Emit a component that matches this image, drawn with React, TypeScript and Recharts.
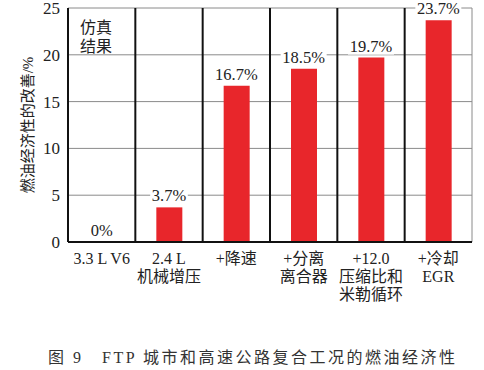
import React from "react";
import {
  ComposedChart,
  Bar,
  Line,
  XAxis,
  YAxis,
  CartesianGrid,
  LabelList,
} from "recharts";

const categories = [
  "3.3 L V6",
  "2.4 L\n机械增压",
  "+降速",
  "+分离\n离合器",
  "+12.0\n压缩比和\n米勒循环",
  "+冷却\nEGR",
];
const improvement = [0, 3.7, 16.7, 18.5, 19.7, 23.7];
const valueLabels = ["0%", "3.7%", "16.7%", "18.5%", "19.7%", "23.7%"];
const yTicks = [0, 5, 10, 15, 20, 25];
const yAxisTitle = "燃油经济性的改善/%";
const noteLines = ["仿真", "结果"];
const caption = "图 9　FTP 城市和高速公路复合工况的燃油经济性";

const data = categories.map((c, i) => ({
  name: c,
  value: improvement[i],
  label: valueLabels[i],
}));

const SERIF = "Liberation Serif, Times New Roman, Noto Sans CJK SC, serif";
const RED = "#e8262b";

const XTick = (props: any) => {
  const { x, y, payload } = props;
  const lines = String(payload.value).split("\n");
  return (
    <g>
      {lines.map((ln, i) => (
        <text
          key={i}
          x={x}
          y={y + 14 + i * 18}
          textAnchor="middle"
          fontFamily={SERIF}
          fontSize={16}
          fill="#222"
        >
          {ln}
        </text>
      ))}
    </g>
  );
};

const ValueLabel = (props: any) => {
  const { x, y, value } = props;
  const text = String(value);
  const cx = x;
  const w = text.length * 8.4 + 4;
  const baseY = y - 6;
  return (
    <g>
      <rect x={cx - w / 2} y={baseY - 13} width={w} height={16} fill="#fff" />
      <text
        x={cx}
        y={baseY}
        textAnchor="middle"
        fontFamily={SERIF}
        fontSize={16.5}
        fill="#222"
      >
        {text}
      </text>
    </g>
  );
};

const YTitle = (props: any) => {
  const { viewBox } = props;
  const cx = 28;
  const cy = viewBox.y + viewBox.height / 2;
  return (
    <text
      x={cx}
      y={cy}
      transform={`rotate(-90, ${cx}, ${cy})`}
      textAnchor="middle"
      dominantBaseline="central"
      fontFamily={SERIF}
      fontSize={15}
      fill="#222"
    >
      {yAxisTitle}
    </text>
  );
};

const separators = (props: any) => {
  const { offset } = props;
  const n = categories.length;
  return categories
    .slice(1)
    .map((_, i) => offset.left + ((i + 1) * offset.width) / n);
};

const rightBorder = (props: any) => {
  const { offset } = props;
  return [offset.left + offset.width];
};

export default function App() {
  return (
    <div
      style={{
        position: "absolute",
        left: 0,
        top: 0,
        width: 484,
        height: 370,
        background: "#fff",
      }}
    >
      <ComposedChart
        width={484}
        height={315}
        data={data}
        margin={{ top: 8, right: 12, left: 0, bottom: 0 }}
        barCategoryGap={0}
      >
        <CartesianGrid
          horizontal={true}
          vertical={false}
          stroke="#8a8a8a"
          strokeWidth={1}
        />
        <CartesianGrid
          horizontal={false}
          vertical={true}
          verticalCoordinatesGenerator={rightBorder}
          stroke="#8a8a8a"
          strokeWidth={1}
        />
        <CartesianGrid
          horizontal={false}
          vertical={true}
          verticalCoordinatesGenerator={separators}
          stroke="#111"
          strokeWidth={2}
        />
        <XAxis
          dataKey="name"
          interval={0}
          tick={<XTick />}
          tickLine={false}
          axisLine={{ stroke: "#111", strokeWidth: 2 }}
          height={73}
        />
        <YAxis
          domain={[0, 25]}
          ticks={yTicks}
          interval={0}
          width={68}
          tickLine={false}
          tickSize={0}
          tickMargin={8}
          axisLine={{ stroke: "#111", strokeWidth: 2 }}
          tick={{ fontFamily: SERIF, fontSize: 17, fill: "#222" }}
          label={<YTitle />}
        />
        <Bar
          dataKey="value"
          fill={RED}
          barSize={26}
          isAnimationActive={false}
        />
        <Line
          dataKey="value"
          stroke="none"
          dot={false}
          activeDot={false}
          isAnimationActive={false}
        >
          <LabelList dataKey="label" content={<ValueLabel />} />
        </Line>
      </ComposedChart>
      <div
        style={{
          position: "absolute",
          left: 80,
          top: 18,
          fontFamily: SERIF,
          fontSize: 16,
          lineHeight: "19px",
          color: "#222",
        }}
      >
        {noteLines.map((ln, i) => (
          <div key={i}>{ln}</div>
        ))}
      </div>
      <div
        style={{
          position: "absolute",
          left: 48,
          top: 344,
          fontFamily: SERIF,
          fontSize: 16,
          letterSpacing: 2.5,
          color: "#333",
          whiteSpace: "pre",
        }}
      >
        {caption}
      </div>
    </div>
  );
}
